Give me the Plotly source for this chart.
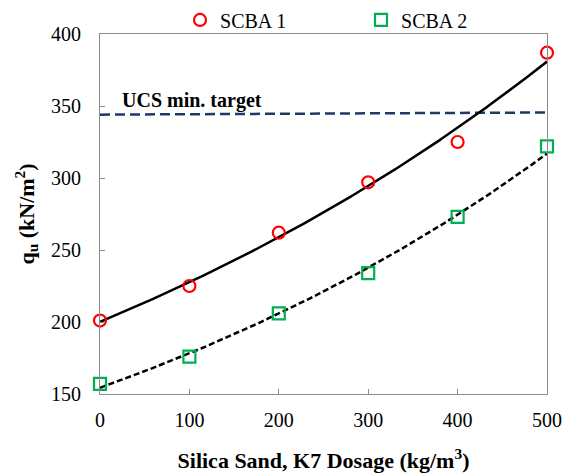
import numpy as np
import plotly.graph_objects as go

# Data
dosage = [0, 100, 200, 300, 400, 500]
scba1 = [201, 225, 262, 297, 325, 387]
scba2 = [157, 176, 206, 234, 273, 322]
target_x = [0, 500]
target_y = [344, 345.5]
x_ticks = [0, 100, 200, 300, 400, 500]
y_ticks = [150, 200, 250, 300, 350, 400]

FONT = "Times New Roman"


def exp_fit(x, y):
    x = np.asarray(x, float)
    b, ln_a = np.polyfit(x, np.log(np.asarray(y, float)), 1)
    xs = np.linspace(x.min(), x.max(), 201)
    return xs, np.exp(ln_a) * np.exp(b * xs)


fx1, fy1 = exp_fit(dosage, scba1)
fx2, fy2 = exp_fit(dosage, scba2)

fig = go.Figure()

fig.add_trace(go.Scatter(x=target_x, y=target_y, mode="lines",
                         line=dict(color="#1f3864", width=2.5, dash="10px,5px"),
                         showlegend=False, hoverinfo="skip"))
fig.add_trace(go.Scatter(x=fx1, y=fy1, mode="lines",
                         line=dict(color="black", width=2.5),
                         showlegend=False, hoverinfo="skip"))
fig.add_trace(go.Scatter(x=fx2, y=fy2, mode="lines",
                         line=dict(color="black", width=2.5, dash="6px,3px"),
                         showlegend=False, hoverinfo="skip"))
fig.add_trace(go.Scatter(x=dosage, y=scba1, mode="markers", name="SCBA 1",
                         marker=dict(symbol="circle-open", size=12, color="#ff0000",
                                     line=dict(width=2.2, color="#ff0000")),
                         cliponaxis=False))
fig.add_trace(go.Scatter(x=dosage, y=scba2, mode="markers", name="SCBA 2",
                         marker=dict(symbol="square-open", size=12, color="#00b050",
                                     line=dict(width=2.2, color="#00b050")),
                         cliponaxis=False))

fig.add_annotation(x=22, y=344, xref="x", yref="y", text="<b>UCS min. target</b>",
                   showarrow=False, xanchor="left", yanchor="bottom", yshift=1,
                   font=dict(family=FONT, size=20, color="black"))

axis_common = dict(showline=True, linecolor="#8c8c8c", linewidth=1, mirror=True,
                   ticks="inside", ticklen=5, tickcolor="#8c8c8c", showgrid=False,
                   zeroline=False, tickfont=dict(family=FONT, size=20, color="black"))

fig.update_xaxes(range=[0, 500], tickvals=x_ticks, ticklabelstandoff=8, **axis_common,
                 title=dict(text="<b>Silica Sand, K7 Dosage (kg/m<sup>3</sup>)</b>",
                            font=dict(family=FONT, size=22, color="black"), standoff=27))
fig.update_yaxes(range=[150, 400], tickvals=y_ticks, ticklabelstandoff=14, **axis_common,
                 title=dict(text="<b>q<sub>u</sub> (kN/m<sup>2</sup>)</b>",
                            font=dict(family=FONT, size=22, color="black"), standoff=10))

# The page body has an 8px default margin, so the figure is 8px smaller than the window
fig.update_layout(
    width=563, height=465,
    margin=dict(l=92, r=24, t=26, b=79, autoexpand=False),
    plot_bgcolor="white", paper_bgcolor="white",
    font=dict(family=FONT, color="black"),
    legend=dict(orientation="h", x=0.179, xanchor="left", y=1.039, yanchor="middle",
                font=dict(family=FONT, size=20, color="black"),
                entrywidth=136, itemwidth=30, bgcolor="rgba(0,0,0,0)"),
)

fig.write_html("out.html")
